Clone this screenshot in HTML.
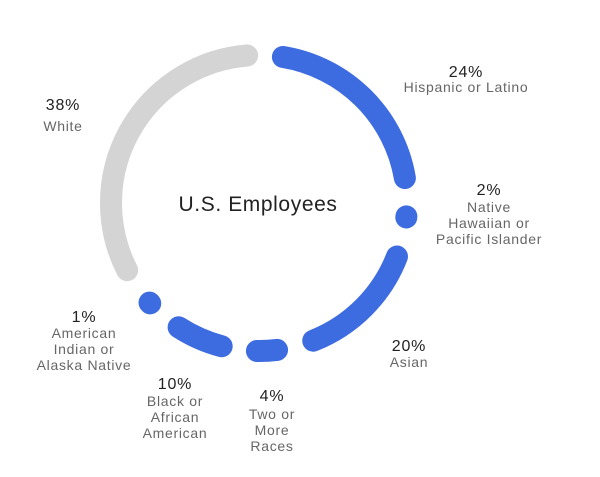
<!DOCTYPE html>
<html><head><meta charset="utf-8"><style>
html,body{margin:0;padding:0;background:#fff;}
svg{display:block;}
text{font-family:"Liberation Sans",sans-serif;text-anchor:middle;}
.p{font-size:16px;fill:#222;letter-spacing:0.8px;}
.l{font-size:14px;fill:#666;letter-spacing:0.7px;}
</style></head><body>
<svg width="600" height="477" viewBox="0 0 600 477" xmlns="http://www.w3.org/2000/svg">
<g fill="none" stroke-width="22" stroke-linecap="round">
<path id="g" stroke="#d4d4d4" d=""/>
</g>
<g id="arcs" fill="none" stroke-width="22" stroke-linecap="round"></g>
<text x="258" y="211" style="font-size:21px;fill:#222;letter-spacing:0.6px">U.S. Employees</text>
<text class="p" x="466" y="77">24%</text>
<text class="l" x="466" y="92">Hispanic or Latino</text>
<text class="p" x="489" y="195">2%</text>
<text class="l" x="489" y="212">Native</text>
<text class="l" x="489" y="228">Hawaiian or</text>
<text class="l" x="489" y="244">Pacific Islander</text>
<text class="p" x="409" y="351">20%</text>
<text class="l" x="409" y="367">Asian</text>
<text class="p" x="272" y="401">4%</text>
<text class="l" x="272" y="419">Two or</text>
<text class="l" x="272" y="435">More</text>
<text class="l" x="272" y="451">Races</text>
<text class="p" x="175" y="389">10%</text>
<text class="l" x="175" y="406">Black or</text>
<text class="l" x="175" y="422">African</text>
<text class="l" x="175" y="438">American</text>
<text class="p" x="84" y="322">1%</text>
<text class="l" x="84" y="338">American</text>
<text class="l" x="84" y="354">Indian or</text>
<text class="l" x="84" y="370">Alaska Native</text>
<text class="p" x="63" y="110">38%</text>
<text class="l" x="63" y="131">White</text>
</svg>
<script>
(function(){
var cx=259,cy=203,r=148;
function pt(a){var t=a*Math.PI/180;return [cx+r*Math.sin(t),cy-r*Math.cos(t)];}
function arc(a1,a2){var p1=pt(a1),p2=pt(a2);var large=(a2-a1)>180?1:0;
return "M"+p1[0].toFixed(2)+" "+p1[1].toFixed(2)+" A"+r+" "+r+" 0 "+large+" 1 "+p2[0].toFixed(2)+" "+p2[1].toFixed(2);}
document.getElementById("g").setAttribute("d",arc(243,355.4));
var segs=[[9.3,80.3],[95.2,95.6],[111.2,158.5],[173,180.8],[194.6,212.9],[227.3,227.7]];
var g=document.getElementById("arcs");
segs.forEach(function(s){var p=document.createElementNS("http://www.w3.org/2000/svg","path");
p.setAttribute("d",arc(s[0],s[1]));p.setAttribute("stroke","#3d6be0");g.appendChild(p);});
})();
</script>
</body></html>
